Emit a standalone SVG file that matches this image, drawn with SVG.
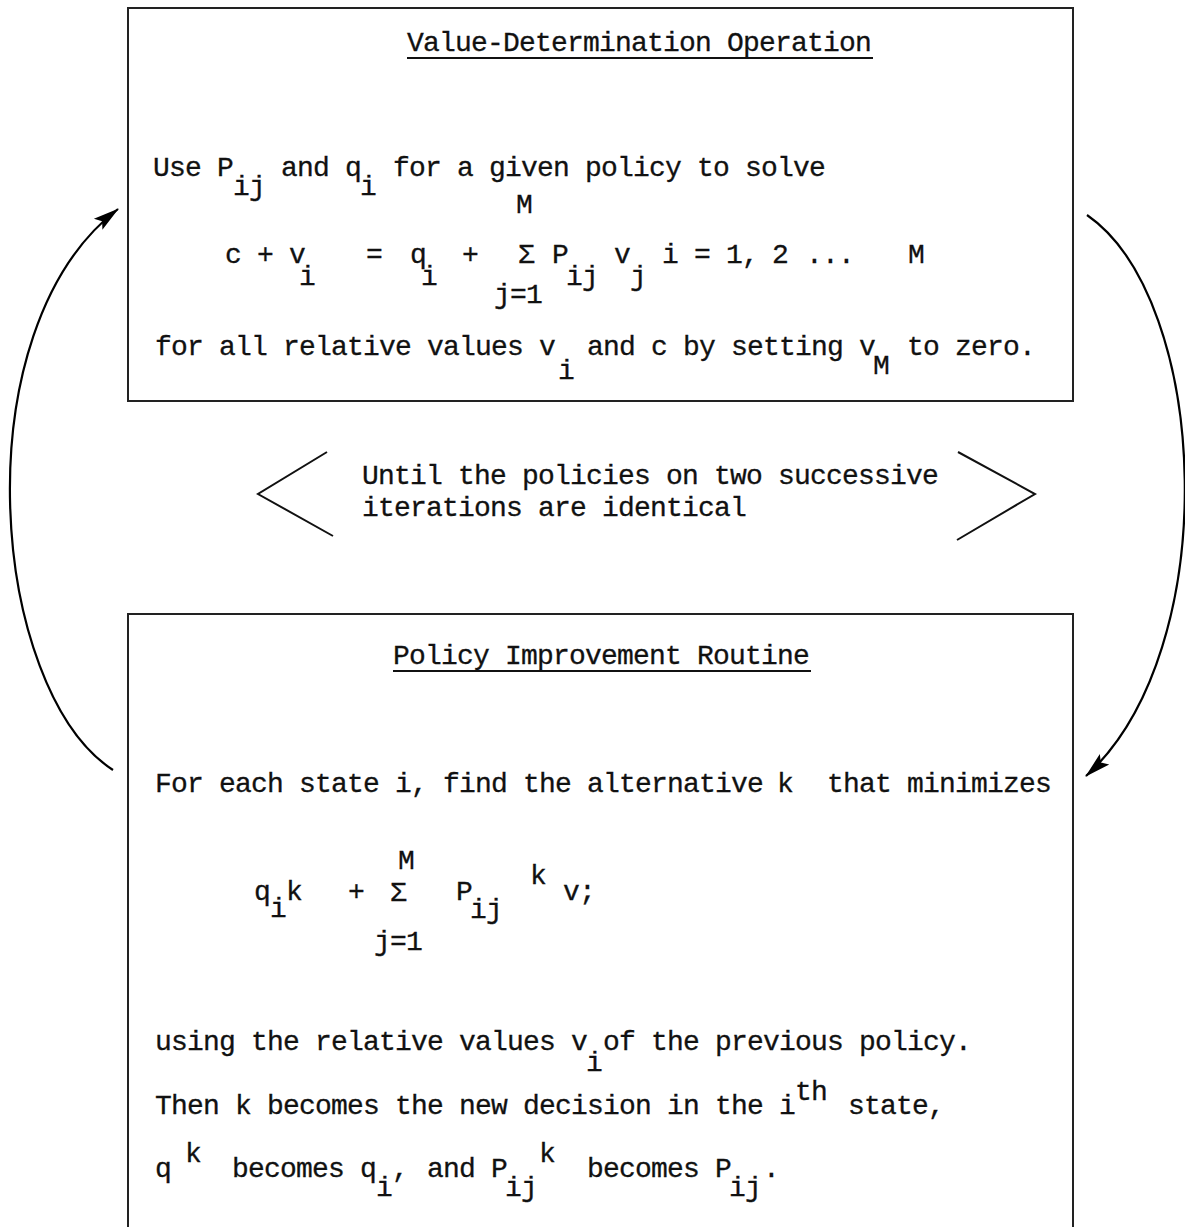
<svg xmlns="http://www.w3.org/2000/svg" width="1185" height="1227" viewBox="0 0 1185 1227">
<style>
.t{font-family:"Liberation Mono","Courier New",monospace;font-size:28px;letter-spacing:-0.8px;fill:#111;stroke:#111;stroke-width:0.3}
.box{fill:none;stroke:#222;stroke-width:2}
.ln{fill:none;stroke:#111;stroke-width:2}
.arc{fill:none;stroke:#000;stroke-width:2.2}
</style>
<defs>
<marker id="ah" markerWidth="28" markerHeight="18" refX="25" refY="9" orient="auto" markerUnits="userSpaceOnUse">
<path d="M0,2 L26,9 L0,16 L5,9 z" fill="#000"/>
</marker>
</defs>
<rect width="1185" height="1227" fill="#fff"/>

<g id="value-determination">
<rect class="box" x="128" y="8" width="945" height="393"/>
<text class="t"><tspan x="407" y="51">Value-Determination Operation</tspan></text>
<line class="ln" x1="407" y1="58" x2="873" y2="58"/>
<text class="t"><tspan x="153" y="176">Use P</tspan><tspan x="233" y="195">ij </tspan><tspan x="281" y="176">and q</tspan><tspan x="360" y="195">i </tspan><tspan x="393" y="176">for a given policy to solve</tspan></text>
<text class="t"><tspan x="516" y="213">M</tspan></text>
<text class="t"><tspan x="225" y="263">c + v</tspan><tspan x="299" y="285">i </tspan><tspan x="366" y="263">= </tspan><tspan x="410" y="263">q</tspan><tspan x="421" y="285">i </tspan><tspan x="462" y="263">+ </tspan><tspan x="518" y="263">Σ </tspan><tspan x="552" y="263">P</tspan><tspan x="566" y="285">ij </tspan><tspan x="614" y="263">v</tspan><tspan x="630" y="285">j </tspan><tspan x="662" y="263">i = 1, </tspan><tspan x="772" y="263">2 </tspan><tspan x="806" y="263">... </tspan><tspan x="908" y="263">M</tspan></text>
<text class="t"><tspan x="494" y="303">j=1</tspan></text>
<text class="t"><tspan x="155" y="355">for all relative values v</tspan><tspan x="558" y="379">i </tspan><tspan x="587" y="355">and c by setting v</tspan><tspan x="873" y="374">M </tspan><tspan x="907" y="355">to zero.</tspan></text>
</g>

<g id="until">
<polyline class="ln" points="327,452 258,494 333,536"/>
<polyline class="ln" points="958,452 1035,494 957,540"/>
<text class="t"><tspan x="362" y="484">Until the policies on two successive</tspan><tspan x="362" y="516">iterations are identical</tspan></text>
</g>

<g id="policy-improvement">
<path class="box" d="M128,1227 V614 H1073 V1227"/>
<text class="t"><tspan x="393" y="664">Policy Improvement Routine</tspan></text>
<line class="ln" x1="393" y1="671" x2="811" y2="671"/>
<text class="t"><tspan x="155" y="792">For each state i, find the alternative </tspan><tspan x="777" y="792">k </tspan><tspan x="827" y="792">that minimizes</tspan></text>
<text class="t"><tspan x="398" y="869">M</tspan></text>
<text class="t"><tspan x="254" y="900">q</tspan><tspan x="270" y="917">i</tspan><tspan x="286" y="900">k </tspan><tspan x="348" y="900">+ </tspan><tspan x="390" y="901">Σ </tspan><tspan x="456" y="900">P</tspan><tspan x="470" y="918">ij</tspan><tspan x="530" y="884">k </tspan><tspan x="563" y="900">v;</tspan></text>
<text class="t"><tspan x="374" y="950">j=1</tspan></text>
<text class="t" x="155" y="1050">using the relative values v</text>
<text class="t" x="586" y="1071">i</text>
<text class="t" x="603" y="1050">of the previous policy.</text>
<text class="t"><tspan x="155" y="1114">Then k </tspan><tspan x="267" y="1114">becomes the new decision in the i</tspan><tspan x="795" y="1100">th </tspan><tspan x="848" y="1114">state,</tspan></text>
<text class="t"><tspan x="155" y="1177">q </tspan><tspan x="185" y="1162">k </tspan><tspan x="232" y="1177">becomes q</tspan><tspan x="376" y="1196">i</tspan><tspan x="392" y="1177">, </tspan><tspan x="427" y="1177">and P</tspan><tspan x="505" y="1196">ij</tspan><tspan x="539" y="1162">k </tspan><tspan x="587" y="1177">becomes P</tspan><tspan x="729" y="1196">ij</tspan><tspan x="763" y="1177">.</tspan></text>
</g>

<g id="connectors">
<path class="arc" d="M113,770 C -10,690 -40,330 118,209" marker-end="url(#ah)"/>
<path class="arc" d="M1087,215 C 1210,300 1225,650 1086,776" marker-end="url(#ah)"/>
</g>
</svg>
